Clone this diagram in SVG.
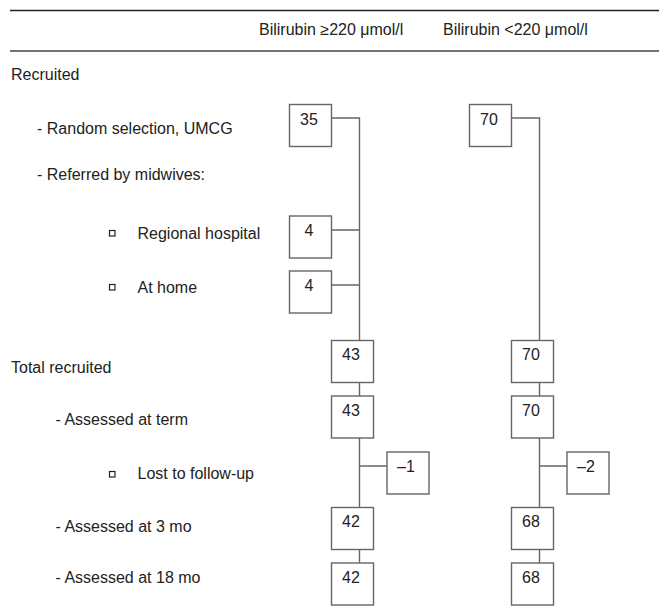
<svg xmlns="http://www.w3.org/2000/svg" width="659" height="615" viewBox="0 0 659 615">
<style>
text{font-family:"Liberation Sans",Arial,sans-serif;font-size:16px;fill:#222}
.box rect{fill:#fff;stroke:#666;stroke-width:1.4}
.box text{text-anchor:middle}
.con{fill:none;stroke:#666;stroke-width:1.4}
.bul{fill:#fff;stroke:#222;stroke-width:1.2}
</style>
<rect width="659" height="615" fill="#fff"/>
<g id="header">
<line x1="10" y1="10.5" x2="659" y2="10.5" stroke="#222" stroke-width="1.4"/>
<line x1="10" y1="51" x2="659" y2="51" stroke="#444" stroke-width="1.4"/>
<text x="259" y="35">Bilirubin ≥220 μmol/l</text>
<text x="443" y="35">Bilirubin &lt;220 μmol/l</text>
</g>
<g id="labels">
<text x="11" y="80">Recruited</text>
<text x="37" y="134">- Random selection, UMCG</text>
<text x="37" y="180">- Referred by midwives:</text>
<rect class="bul" x="109.5" y="230.5" width="5.5" height="5.5"/>
<text x="137.5" y="239">Regional hospital</text>
<rect class="bul" x="109.5" y="284.5" width="5.5" height="5.5"/>
<text x="137.5" y="293">At home</text>
<text x="11" y="373">Total recruited</text>
<text x="55.5" y="425">- Assessed at term</text>
<rect class="bul" x="109.5" y="471.5" width="5.5" height="5.5"/>
<text x="137.5" y="478.5">Lost to follow-up</text>
<text x="55.5" y="531.5">- Assessed at 3 mo</text>
<text x="55.5" y="582.5">- Assessed at 18 mo</text>
</g>
<g id="connectors">
<path class="con" d="M331.5 118H359.5V340.5M331.5 230H359.5M331.5 285H359.5M359.5 382.5V396M359.5 438V507.5M359.5 466H387M359.5 549.5V563"/>
<path class="con" d="M511.5 118H539.5V340.5M539.5 382.5V396M539.5 438V507.5M539.5 466H567M539.5 549.5V563"/>
</g>
<g id="n35" class="box"><rect x="289.5" y="104.5" width="42" height="42"/><text x="309" y="124.5">35</text></g>
<g id="n4a" class="box"><rect x="289.5" y="216" width="42" height="42"/><text x="309" y="235.5">4</text></g>
<g id="n4b" class="box"><rect x="289.5" y="271" width="42" height="42"/><text x="309" y="290.5">4</text></g>
<g id="n43a" class="box"><rect x="331.5" y="340.5" width="42" height="42"/><text x="351" y="360">43</text></g>
<g id="n43b" class="box"><rect x="331.5" y="396" width="42" height="42"/><text x="351" y="415.5">43</text></g>
<g id="nm1" class="box"><rect x="387" y="452" width="42" height="42"/><text x="406" y="471.5">–1</text></g>
<g id="n42a" class="box"><rect x="331.5" y="507.5" width="42" height="42"/><text x="351" y="527">42</text></g>
<g id="n42b" class="box"><rect x="331.5" y="563" width="42" height="42"/><text x="351" y="582.5">42</text></g>
<g id="n70" class="box"><rect x="469.5" y="104.5" width="42" height="42"/><text x="489" y="124.5">70</text></g>
<g id="n70a" class="box"><rect x="511.5" y="340.5" width="42" height="42"/><text x="531" y="360">70</text></g>
<g id="n70b" class="box"><rect x="511.5" y="396" width="42" height="42"/><text x="531" y="415.5">70</text></g>
<g id="nm2" class="box"><rect x="567" y="452" width="42" height="42"/><text x="586" y="471.5">–2</text></g>
<g id="n68a" class="box"><rect x="511.5" y="507.5" width="42" height="42"/><text x="531" y="527">68</text></g>
<g id="n68b" class="box"><rect x="511.5" y="563" width="42" height="42"/><text x="531" y="582.5">68</text></g>
</svg>
